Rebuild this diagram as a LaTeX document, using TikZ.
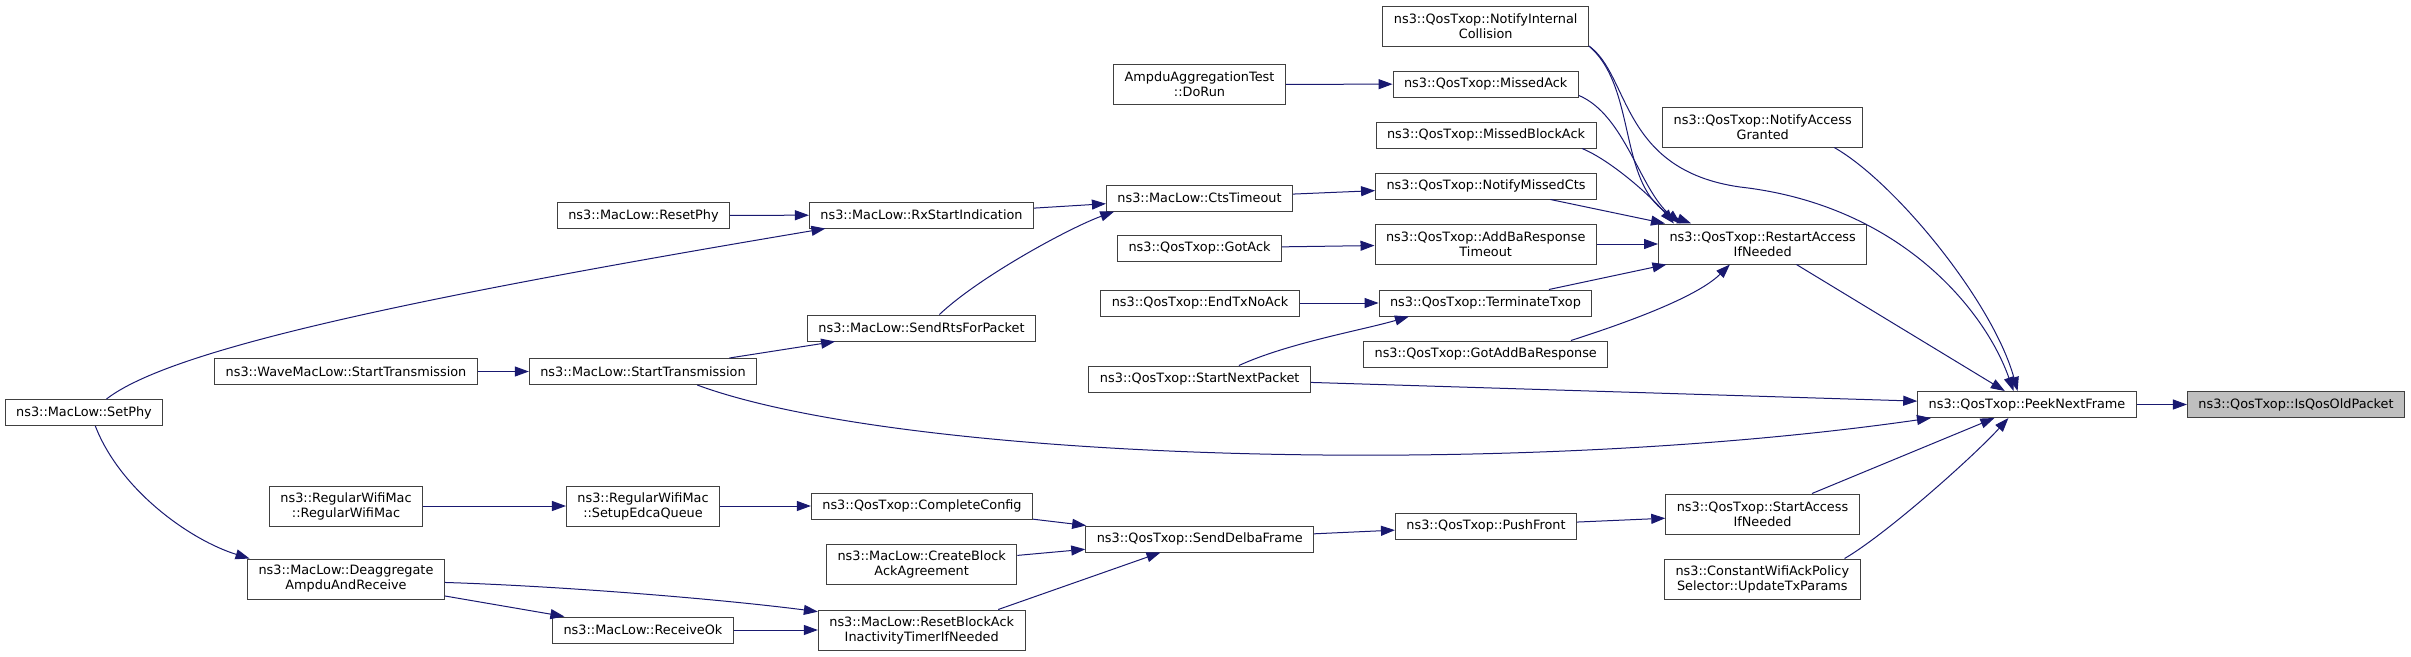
\documentclass[tikz,border=0pt]{standalone}
\usepackage{fontspec}
\setmainfont{DejaVu Sans}
\usetikzlibrary{arrows.meta}
\definecolor{edgeblue}{HTML}{191970}
\definecolor{boxgray}{HTML}{404040}
\definecolor{hlgray}{HTML}{BFBFBF}
\begin{document}
\begin{tikzpicture}[x=1pt,y=-1pt,>={Triangle[length=14pt,width=10pt]},font=\fontsize{12.85}{15}\selectfont,
  fn/.style={draw=boxgray,line width=1pt,fill=white,minimum height=26pt,inner xsep=11pt,inner ysep=3pt,align=center},
  fntwo/.style={fn,minimum height=40pt},
  call/.style={->,color=edgeblue,line width=1pt}]
\useasboundingbox (0,0) rectangle (2411,656);
\node[fn] (setphy) at (84,412.5) {ns3::MacLow::SetPhy};
\node[fn] (wavestart) at (346,371.5) {ns3::WaveMacLow::StartTransmission};
\node[fntwo] (regularmac) at (346,506) {ns3::RegularWifiMac\\::RegularWifiMac};
\node[fntwo] (deaggregate) at (346,579) {ns3::MacLow::Deaggregate\\AmpduAndReceive};
\node[fn] (resetphy) at (643.5,215.5) {ns3::MacLow::ResetPhy};
\node[fn] (starttx) at (643,371.5) {ns3::MacLow::StartTransmission};
\node[fntwo] (setupedca) at (643,506) {ns3::RegularWifiMac\\::SetupEdcaQueue};
\node[fn] (receiveok) at (643,630) {ns3::MacLow::ReceiveOk};
\node[fn] (rxstart) at (921.5,215) {ns3::MacLow::RxStartIndication};
\node[fn] (sendrts) at (921.5,328) {ns3::MacLow::SendRtsForPacket};
\node[fn] (completeconfig) at (922,506) {ns3::QosTxop::CompleteConfig};
\node[fntwo] (createblock) at (921.7,564) {ns3::MacLow::CreateBlock\\AckAgreement};
\node[fntwo] (resetblock) at (921.7,630) {ns3::MacLow::ResetBlockAck\\InactivityTimerIfNeeded};
\node[fntwo] (dorun) at (1199.5,84.5) {AmpduAggregationTest\\::DoRun};
\node[fn] (ctstimeout) at (1199.5,198) {ns3::MacLow::CtsTimeout};
\node[fn] (gotack) at (1199.5,248) {ns3::QosTxop::GotAck};
\node[fn] (endtx) at (1200,303) {ns3::QosTxop::EndTxNoAck};
\node[fn] (startnext) at (1199.7,379) {ns3::QosTxop::StartNextPacket};
\node[fn] (senddelba) at (1199.7,539) {ns3::QosTxop::SendDelbaFrame};
\node[fntwo] (notifycoll) at (1485.7,26) {ns3::QosTxop::NotifyInternal\\Collision};
\node[fn] (missedack) at (1485.7,84) {ns3::QosTxop::MissedAck};
\node[fn] (missedblock) at (1486,135) {ns3::QosTxop::MissedBlockAck};
\node[fn] (missedcts) at (1486,186) {ns3::QosTxop::NotifyMissedCts};
\node[fntwo] (addba) at (1485.7,244) {ns3::QosTxop::AddBaResponse\\Timeout};
\node[fn] (terminate) at (1485.5,303) {ns3::QosTxop::TerminateTxop};
\node[fn] (gotaddba) at (1485.7,354) {ns3::QosTxop::GotAddBaResponse};
\node[fn] (pushfront) at (1486,526) {ns3::QosTxop::PushFront};
\node[fntwo] (accessgranted) at (1762.7,127) {ns3::QosTxop::NotifyAccess\\Granted};
\node[fntwo] (restart) at (1762.7,244) {ns3::QosTxop::RestartAccess\\IfNeeded};
\node[fntwo] (startaccess) at (1762.5,514) {ns3::QosTxop::StartAccess\\IfNeeded};
\node[fntwo] (ackpolicy) at (1762.3,579) {ns3::ConstantWifiAckPolicy\\Selector::UpdateTxParams};
\node[fn] (peek) at (2027,404.5) {ns3::QosTxop::PeekNextFrame};
\node[fn,fill=hlgray] (isqos) at (2296,404.5) {ns3::QosTxop::IsQosOldPacket};
\foreach \a/\b in {peek/isqos,restart/peek,startnext/peek,startaccess/peek,missedcts/restart,addba/restart,terminate/restart,dorun/missedack,ctstimeout/missedcts,gotack/addba,endtx/terminate,rxstart/ctstimeout,resetphy/rxstart,starttx/sendrts,wavestart/starttx,pushfront/startaccess,senddelba/pushfront,completeconfig/senddelba,createblock/senddelba,setupedca/completeconfig,regularmac/setupedca,deaggregate/receiveok,receiveok/resetblock}
  {\draw[call] (\a) -- (\b);}
\draw[call] (accessgranted.-16) .. controls (1895,182) and (1993,302) .. (peek.125);
\draw[call] (notifycoll.-11) .. controls (1630,75) and (1620,170) .. (1740,187) .. controls (1900,205) and (1985,310) .. (peek.135);
\draw[call] (notifycoll.-11) .. controls (1640,90) and (1615,195) .. (restart.164);
\draw[call] (missedack.-7) .. controls (1625,115) and (1640,190) .. (restart.166);
\draw[call] (missedblock.-8) .. controls (1610,160) and (1650,195) .. (restart.167);
\draw[call] (gotaddba.9) .. controls (1616,326) and (1695,299) .. (restart.212);
\draw[call] (startnext.19) .. controls (1288,343) and (1363,330) .. (terminate.190);
\draw[call] (sendrts.37) .. controls (979,277) and (1069,228) .. (ctstimeout.189);
\draw[call] (setphy.31) .. controls (170,350) and (400,300) .. (rxstart.188);
\draw[call] (starttx.-14) .. controls (900,460) and (1500,480) .. (peek.188);
\draw[call] (ackpolicy.14) .. controls (1888,533) and (1975,455) .. (peek.216);
\draw[call] (resetblock.15) -- (senddelba.199);
\draw[call] (deaggregate.-2) .. controls (560,586) and (720,599) .. (resetblock.170);
\draw[call] (setphy.-50) .. controls (120,490) and (190,540) .. (deaggregate.168);
\end{tikzpicture}
\end{document}
